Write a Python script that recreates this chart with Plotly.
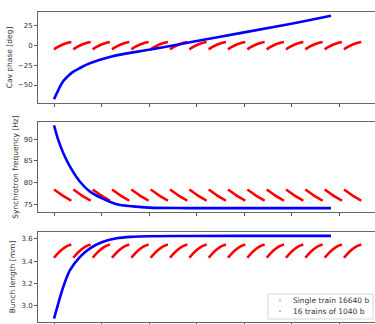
import plotly.graph_objects as go

# ---------------- data ----------------
# bunch index axis
n_single = 16640          # single train length (bunches)
n_train = 1040            # bunches per train
n_trains = 16
train_period = 1160       # train start-to-start spacing (bunches incl. gap)
tick_step = 2850

# single train (blue) samples: bunch index -> value
blue_idx = [0, 200, 360, 560, 800, 1100, 1560, 2100, 2760, 3400, 4140, 5700,
            7140, 8160, 11160, 14000, 16620]
blue_phase = [-68, -59, -52, -45, -39.5, -34, -28.5, -23, -18, -14.2, -10.9, -5.4,
              0.0, 4.0, 15.6, 26.5, 37.6]

blue_fs_idx = [0, 260, 560, 960, 1560, 2160, 2860, 3760, 4740, 5700, 8000, 12000, 16620]
blue_fs = [93.2, 89.8, 86.8, 83.7, 80.2, 77.9, 76.4, 75.0, 74.5, 74.2, 74.1, 74.1, 74.1]

blue_bl_idx = [0, 260, 560, 960, 1560, 2160, 2860, 3760, 4740, 5700, 8000, 12000, 16620]
blue_bl = [2.88, 3.018, 3.168, 3.318, 3.439, 3.515, 3.57, 3.606, 3.62, 3.625, 3.627, 3.628, 3.628]

# 16 trains (red): per-train profile at fractions along a train
train_frac = [0.0, 0.25, 0.5, 0.75, 1.0]
red_phase = [-5.0, -1.6, 1.2, 3.2, 4.5]
red_fs = [78.4, 77.7, 77.0, 76.4, 75.8]
red_bl = [3.43, 3.475, 3.51, 3.535, 3.55]

ylabels = ["Cav phase [deg]", "Synchrotron frequency [Hz]", "Bunch length [mm]"]
legend_names = ["Single train 16640 b", "16 trains of 1040 b"]
legend_colors = ["#8ab8e6", "#ff9a40"]

# ---------------- build ----------------
W, H = 375, 324
L, R, T, B = 38, 0, 12, 2
ph = H - T - B
pw = W - L - R

def dom(top_px, bot_px):
    return [(H - B - bot_px) / ph, (H - B - top_px) / ph]

def px_x(px):
    return (px - L) / pw

def px_y(py):
    return (H - B - py) / ph

domains = [dom(12, 103), dom(122, 212), dom(232, 322)]

def red_series(profile):
    xs, ys = [], []
    for k in range(n_trains):
        s = k * train_period
        for f, v in zip(train_frac, profile):
            xs.append(s + f * (n_train - 1))
            ys.append(v)
        xs.append(None)
        ys.append(None)
    return xs, ys

fig = go.Figure()
panels = [
    (blue_idx, blue_phase, red_phase),
    (blue_fs_idx, blue_fs, red_fs),
    (blue_bl_idx, blue_bl, red_bl),
]
for i, (bx, by, rp) in enumerate(panels):
    ax = "" if i == 0 else str(i + 1)
    rx, ry = red_series(rp)
    fig.add_trace(go.Scatter(x=rx, y=ry, mode="lines", line=dict(color="#ff0000", width=2.6, shape="spline"),
                             xaxis="x" + ax, yaxis="y" + ax, showlegend=False, hoverinfo="skip"))
    fig.add_trace(go.Scatter(x=bx, y=by, mode="lines", line=dict(color="#0000ff", width=2.6, shape="spline"),
                             xaxis="x" + ax, yaxis="y" + ax, showlegend=False, hoverinfo="skip"))

xr = [-960, (W - 54) * tick_step / 47.5]
ticks = [k * tick_step for k in range(7)]
yranges = [[-72.7, 42.3], [73.2, 94.0], [2.849, 3.663]]
ytick_vals = [[-50, -25, 0, 25], [75, 80, 85, 90], [3.0, 3.2, 3.4, 3.6]]
ytick_text = [["−50", "−25", "0", "25"], ["75", "80", "85", "90"], ["3.0", "3.2", "3.4", "3.6"]]

# manual compact legend (matplotlib style)
shapes = [dict(type="rect", xref="paper", yref="paper",
               x0=px_x(268), x1=px_x(373), y0=px_y(319), y1=px_y(294),
               line=dict(color="#d5d5d5", width=1), fillcolor="rgba(255,255,255,0.85)", layer="above")]
annotations = []
for k, (name, col) in enumerate(zip(legend_names, legend_colors)):
    yc = 300.5 + k * 10.7
    shapes.append(dict(type="circle", xref="paper", yref="paper",
                       x0=px_x(279), x1=px_x(281), y0=px_y(yc + 1), y1=px_y(yc - 1),
                       line=dict(width=0), fillcolor=col, layer="above"))
    annotations.append(dict(text=name, xref="paper", yref="paper", x=px_x(291), y=px_y(yc),
                            xanchor="left", yanchor="middle", showarrow=False,
                            font=dict(size=7.5, color="#333333", family="DejaVu Sans")))

layout = dict(width=W, height=H, margin=dict(l=L, r=R, t=T, b=B),
              paper_bgcolor="white", plot_bgcolor="white", showlegend=False,
              font=dict(family="DejaVu Sans", size=7, color="#333333"),
              shapes=shapes, annotations=annotations)
for i in range(3):
    ax = "" if i == 0 else str(i + 1)
    layout["xaxis" + ax] = dict(domain=[0, 1], range=xr, anchor="y" + ax,
                                tickvals=ticks, showticklabels=False, ticks="outside",
                                ticklen=3, tickcolor="#555555", showline=True, mirror=True,
                                linecolor="#666666", linewidth=1, showgrid=False, zeroline=False,
                                **({} if i == 0 else dict(matches="x")))
    layout["yaxis" + ax] = dict(domain=domains[i], range=yranges[i], anchor="x" + ax,
                                tickvals=ytick_vals[i], ticktext=ytick_text[i], ticks="outside",
                                ticklen=3, tickcolor="#555555", showline=True, mirror=False,
                                linecolor="#666666", linewidth=1, showgrid=False, zeroline=False,
                                title=dict(text=ylabels[i], standoff=4, font=dict(size=7.5, color="#333333")))
fig.update_layout(**layout)
fig.write_html("out.html", config={"displayModeBar": False},
               post_script="document.body.style.margin='0';document.body.style.overflow='hidden';")
